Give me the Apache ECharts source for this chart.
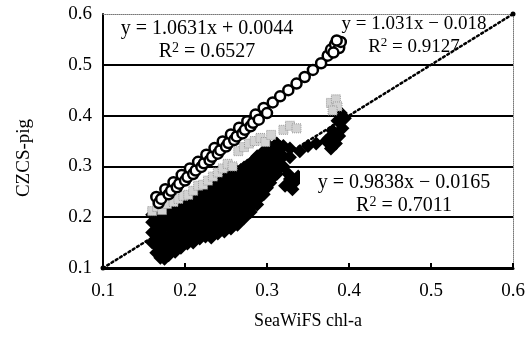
<!DOCTYPE html>
<html>
<head>
<meta charset="utf-8">
<title>CZCS-pig vs SeaWiFS chl-a</title>
<script src="https://cdn.jsdelivr.net/npm/echarts@6.0.0/dist/echarts.min.js"></script>
<style>
  html, body { margin: 0; padding: 0; background: #fff; }
  #chart { width: 532px; height: 338px; }
</style>
</head>
<body>
<div id="chart"></div>
<script>
// axis ticks (both axes share the same range)
var axisTicks = [0.1, 0.2, 0.3, 0.4, 0.5, 0.6]
var oneToOne = [0.1, 0.6]

// open circles (upper band)
var circlePts = [
  [0.165,0.240],[0.168,0.228],[0.171,0.236],[0.176,0.255],[0.180,0.245],[0.183,0.252],
  [0.186,0.269],[0.190,0.259],[0.193,0.266],[0.196,0.283],[0.200,0.272],[0.203,0.279],
  [0.206,0.296],[0.210,0.285],[0.213,0.292],[0.216,0.309],[0.220,0.299],[0.223,0.306],
  [0.226,0.323],[0.230,0.312],[0.233,0.319],[0.236,0.336],[0.240,0.325],[0.243,0.332],
  [0.246,0.349],[0.250,0.339],[0.253,0.346],[0.256,0.363],[0.260,0.352],[0.263,0.359],
  [0.266,0.376],[0.270,0.365],[0.273,0.372],[0.276,0.389],[0.280,0.379],[0.283,0.386],
  [0.286,0.402],[0.290,0.392],[0.296,0.415],[0.300,0.405],
  [0.307,0.426],[0.316,0.438],[0.326,0.450],[0.336,0.463],[0.346,0.476],[0.356,0.490],
  [0.366,0.503],[0.374,0.518],[0.378,0.530],[0.383,0.540],[0.388,0.533],
  [0.381,0.524],[0.390,0.545],[0.385,0.548]
]

// grey dotted points (middle band)
var greyPts = [
  [0.160,0.212],[0.166,0.220],[0.172,0.214],[0.178,0.226],[0.186,0.230],[0.192,0.236],
  [0.198,0.242],[0.204,0.244],[0.210,0.252],[0.216,0.262],[0.222,0.264],[0.228,0.272],
  [0.234,0.280],[0.240,0.288],[0.246,0.296],[0.252,0.305],[0.258,0.300],[0.265,0.330],
  [0.272,0.338],[0.278,0.345],[0.285,0.350],[0.292,0.356],[0.298,0.348],[0.305,0.362],
  [0.320,0.372],[0.328,0.380],[0.336,0.375],[0.378,0.425],[0.384,0.432],[0.386,0.418],
  [0.380,0.410]
]

// black diamonds (dense cloud)
var diamondPts = [
  [0.160,0.150],[0.160,0.170],[0.160,0.190],[0.160,0.205],
  [0.165,0.130],[0.165,0.145],[0.165,0.165],[0.165,0.185],[0.165,0.205],
  [0.170,0.120],[0.170,0.135],[0.170,0.155],[0.170,0.175],[0.170,0.195],[0.170,0.205],
  [0.175,0.118],[0.175,0.140],[0.175,0.160],[0.175,0.180],[0.175,0.200],[0.175,0.208],
  [0.180,0.125],[0.180,0.142],[0.180,0.162],[0.180,0.185],[0.180,0.205],[0.180,0.212],
  [0.184,0.135],[0.184,0.152],[0.184,0.175],[0.184,0.196],[0.184,0.210],
  [0.188,0.132],[0.188,0.150],[0.188,0.170],[0.188,0.190],[0.188,0.210],[0.188,0.218],
  [0.192,0.145],[0.192,0.165],[0.192,0.186],[0.192,0.206],[0.192,0.218],
  [0.195,0.140],[0.195,0.158],[0.195,0.178],[0.195,0.198],[0.195,0.218],[0.195,0.225],
  [0.199,0.150],[0.199,0.170],[0.199,0.192],[0.199,0.214],[0.199,0.225],
  [0.203,0.148],[0.203,0.165],[0.203,0.185],[0.203,0.205],[0.203,0.225],[0.203,0.232],
  [0.207,0.158],[0.207,0.178],[0.207,0.198],[0.207,0.220],[0.207,0.232],
  [0.210,0.150],[0.210,0.170],[0.210,0.190],[0.210,0.210],[0.210,0.230],[0.210,0.238],
  [0.214,0.162],[0.214,0.184],[0.214,0.205],[0.214,0.226],[0.214,0.240],
  [0.218,0.158],[0.218,0.175],[0.218,0.195],[0.218,0.218],[0.218,0.238],[0.218,0.245],
  [0.222,0.168],[0.222,0.188],[0.222,0.210],[0.222,0.232],[0.222,0.245],
  [0.225,0.162],[0.225,0.180],[0.225,0.200],[0.225,0.222],[0.225,0.245],[0.225,0.252],
  [0.229,0.172],[0.229,0.193],[0.229,0.216],[0.229,0.238],[0.229,0.255],
  [0.232,0.160],[0.232,0.185],[0.232,0.205],[0.232,0.228],[0.232,0.250],[0.232,0.260],
  [0.236,0.176],[0.236,0.198],[0.236,0.222],[0.236,0.245],[0.236,0.262],
  [0.240,0.168],[0.240,0.190],[0.240,0.212],[0.240,0.235],[0.240,0.258],[0.240,0.268],
  [0.244,0.180],[0.244,0.204],[0.244,0.228],[0.244,0.252],[0.244,0.270],
  [0.248,0.172],[0.248,0.195],[0.248,0.218],[0.248,0.242],[0.248,0.265],[0.248,0.276],
  [0.252,0.186],[0.252,0.210],[0.252,0.234],[0.252,0.258],[0.252,0.278],
  [0.256,0.178],[0.256,0.200],[0.256,0.225],[0.256,0.250],[0.256,0.272],[0.256,0.283],
  [0.260,0.192],[0.260,0.216],[0.260,0.240],[0.260,0.265],[0.260,0.286],
  [0.264,0.185],[0.264,0.208],[0.264,0.232],[0.264,0.258],[0.264,0.280],[0.264,0.290],
  [0.268,0.200],[0.268,0.224],[0.268,0.250],[0.268,0.274],[0.268,0.293],
  [0.272,0.198],[0.272,0.220],[0.272,0.242],[0.272,0.265],[0.272,0.288],[0.272,0.298],
  [0.276,0.212],[0.276,0.235],[0.276,0.258],[0.276,0.282],[0.276,0.302],
  [0.280,0.210],[0.280,0.232],[0.280,0.255],[0.280,0.275],[0.280,0.298],[0.280,0.306],
  [0.284,0.225],[0.284,0.248],[0.284,0.270],[0.284,0.292],[0.284,0.312],
  [0.288,0.225],[0.288,0.245],[0.288,0.265],[0.288,0.285],[0.288,0.308],[0.288,0.320],
  [0.292,0.240],[0.292,0.260],[0.292,0.282],[0.292,0.304],[0.292,0.322],
  [0.296,0.245],[0.296,0.262],[0.296,0.280],[0.296,0.298],[0.296,0.318],[0.296,0.330],
  [0.300,0.258],[0.300,0.276],[0.300,0.295],[0.300,0.315],[0.300,0.332],
  [0.304,0.268],[0.304,0.285],[0.304,0.302],[0.304,0.322],[0.304,0.338],
  [0.308,0.280],[0.308,0.298],[0.308,0.318],[0.308,0.338],
  [0.312,0.285],[0.312,0.305],[0.312,0.325],[0.312,0.345],
  [0.316,0.298],[0.316,0.318],[0.316,0.338],
  [0.320,0.300],[0.320,0.320],[0.320,0.340],
  [0.328,0.318],[0.328,0.335],
  [0.322,0.262],[0.328,0.275],[0.333,0.268],[0.338,0.280],[0.326,0.285],[0.331,0.255],
  [0.340,0.330],[0.350,0.340],[0.360,0.345],[0.372,0.350],[0.378,0.335],[0.384,0.345],
  [0.388,0.360],[0.392,0.375],[0.386,0.390],[0.390,0.405],[0.380,0.370],[0.375,0.355],
  [0.395,0.395]
]

var serif = 'Liberation Serif'

var chart = echarts.init(document.getElementById('chart'))

function frameAxis(pos) {
  return {
    type: 'value', position: pos,
    min: axisTicks[0], max: axisTicks[axisTicks.length - 1], interval: 0.1,
    axisLine: { show: true, lineStyle: { color: '#777', width: 1, type: 'dotted' } },
    axisTick: { show: false }, axisLabel: { show: false }, splitLine: { show: false }
  }
}

function eqText(x, y, eq, r2, size) {
  return [
    { type: 'text', x: x, y: y, z: 100,
      style: { text: eq, font: size + 'px "' + serif + '"', fill: '#000', align: 'center', verticalAlign: 'middle' } },
    { type: 'text', x: x, y: y + 23, z: 100,
      style: {
        text: '{r|R}{s|2}{r| = ' + r2 + '}', align: 'center', verticalAlign: 'middle',
        rich: {
          r: { fontFamily: serif, fontSize: size, fill: '#000', lineHeight: size + 2 },
          s: { fontFamily: serif, fontSize: Math.round(size * 0.68), fill: '#000', verticalAlign: 'top', lineHeight: size + 2 }
        }
      } }
  ]
}

var option = {
  animation: false,
  backgroundColor: '#fff',
  grid: { left: 103, right: 19, top: 14, bottom: 70, containLabel: false, outerBoundsMode: 'none' },
  xAxis: [{
    type: 'value',
    min: axisTicks[0], max: axisTicks[axisTicks.length - 1], interval: 0.1,
    name: 'SeaWiFS chl-a', nameLocation: 'middle', nameGap: 44,
    nameTextStyle: { fontFamily: serif, fontSize: 18, color: '#000' },
    axisLine: { lineStyle: { color: '#000', width: 3 } },
    axisTick: { inside: true, length: 5, lineStyle: { color: '#000', width: 2 } },
    axisLabel: { fontFamily: serif, fontSize: 19, color: '#000', margin: 14, formatter: function (v) { return v.toFixed(1) } },
    splitLine: { show: false }
  }, frameAxis('top')],
  yAxis: [{
    type: 'value',
    min: axisTicks[0], max: axisTicks[axisTicks.length - 1], interval: 0.1,
    axisLine: { show: true, lineStyle: { color: '#000', width: 2 } },
    axisTick: { show: false },
    axisLabel: { fontFamily: serif, fontSize: 19, color: '#000', margin: 11, formatter: function (v) { return v.toFixed(1) } },
    splitLine: { show: true, showMinLine: false, showMaxLine: false, lineStyle: { color: '#000', width: 2 } }
  }, frameAxis('right')],
  series: [
    { type: 'scatter', data: diamondPts, symbol: 'diamond', symbolSize: 14,
      itemStyle: { color: '#000', opacity: 1 }, z: 2 },
    { type: 'scatter', data: greyPts, symbol: 'rect', symbolSize: 9,
      itemStyle: { color: '#d2d2d2', borderColor: '#999', borderWidth: 1, borderType: 'dotted', opacity: 1 }, z: 3 },
    { type: 'scatter', data: circlePts, symbol: 'circle', symbolSize: 10,
      itemStyle: { color: '#fff', borderColor: '#000', borderWidth: 2.5, opacity: 1 }, z: 4 },
    { type: 'line', data: [[oneToOne[0], oneToOne[0]], [oneToOne[1], oneToOne[1]]],
      symbol: 'circle', symbolSize: 5, itemStyle: { color: '#000' },
      lineStyle: { color: '#000', width: 2.5, type: [2, 3], cap: 'round' }, z: 5 }
  ],
  graphic: [
    { type: 'text', x: 24, y: 158, rotation: Math.PI / 2,
      style: { text: 'CZCS-pig', font: '19px "' + serif + '"', fill: '#000', align: 'center', verticalAlign: 'middle' } },
    // white box behind the lower equation
    { type: 'rect', shape: { x: 300, y: 170, width: 211, height: 45 }, z: 99,
      style: { fill: '#fff' } }
  ]
    .concat(eqText(207, 29, 'y = 1.0631x + 0.0044', '0.6527', 20))
    .concat(eqText(414, 24, 'y = 1.031x \u2212 0.018', '0.9127', 19))
    .concat(eqText(404, 183, 'y = 0.9838x \u2212 0.0165', '0.7011', 20))
}

chart.setOption(option)
</script>
</body>
</html>
